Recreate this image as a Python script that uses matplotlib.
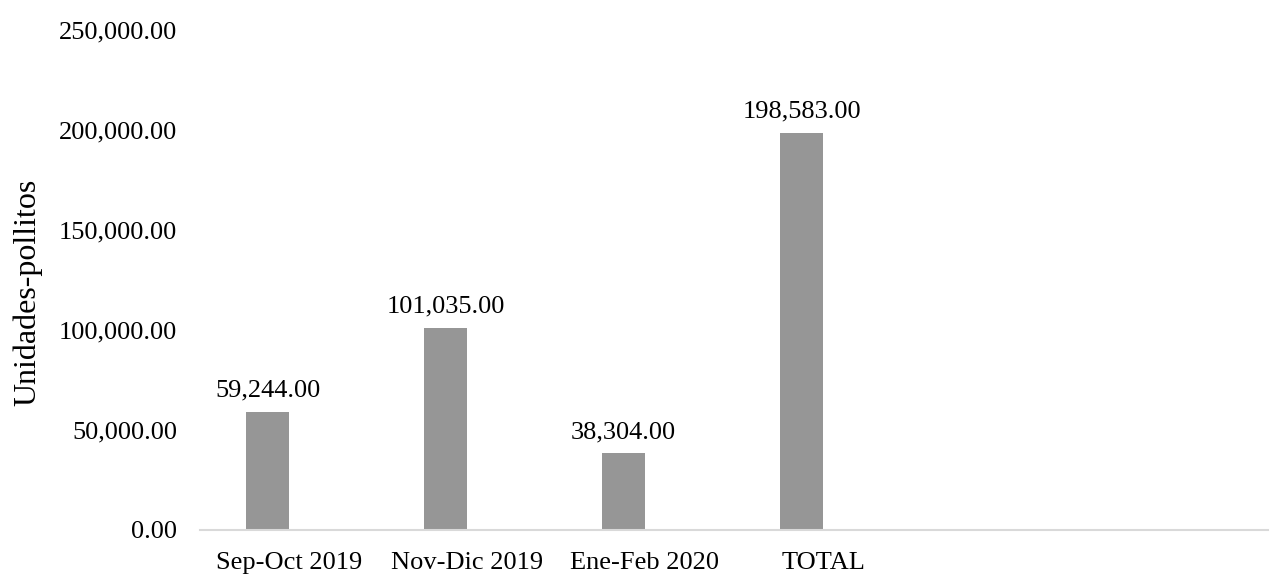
import matplotlib
matplotlib.use("Agg")
import matplotlib.pyplot as plt
from matplotlib.ticker import FuncFormatter

categories = ["Sep-Oct 2019", "Nov-Dic 2019", "Ene-Feb 2020", "TOTAL", "", ""]
values = [59244.00, 101035.00, 38304.00, 198583.00]
yticks = [0, 50000, 100000, 150000, 200000, 250000]

plt.rcParams['font.family'] = ['Liberation Serif', 'DejaVu Serif']

fig = plt.figure(figsize=(12.73, 5.76), dpi=100)
ax = fig.add_axes([200 / 1273, 46 / 576, 1068 / 1273, 500 / 576])

pos = list(range(len(categories)))
bw = 0.24
bars = ax.bar([p - bw / 2 for p in pos[:len(values)]], values, width=bw,
              color='#969696', zorder=2)
for b, v in zip(bars, values):
    ax.annotate(f"{v:,.2f}", (b.get_x() + b.get_width() / 2, v),
                xytext=(0, 10.8), textcoords='offset points',
                ha='center', va='baseline', fontsize=19)

ax.set_xlim(-0.5, len(categories) - 0.5)
ax.set_ylim(0, 250000)
ax.set_xticks(pos)
ax.set_xticklabels(categories, fontsize=19)
ax.set_yticks(yticks)
ax.yaxis.set_major_formatter(FuncFormatter(lambda v, _: f"{v:,.2f}"))
ax.tick_params(axis='y', labelsize=19, length=0, pad=16.5)
ax.tick_params(axis='x', length=0, pad=16)

for s in ['top', 'right', 'left']:
    ax.spines[s].set_visible(False)
ax.spines['bottom'].set_color('#d9d9d9')
ax.spines['bottom'].set_linewidth(1.5)

ax.set_ylabel("Unidades-pollitos", fontsize=23)
ax.yaxis.set_label_coords(-158 / 1068, 0.475)

fig.savefig("out.png", dpi=100)
